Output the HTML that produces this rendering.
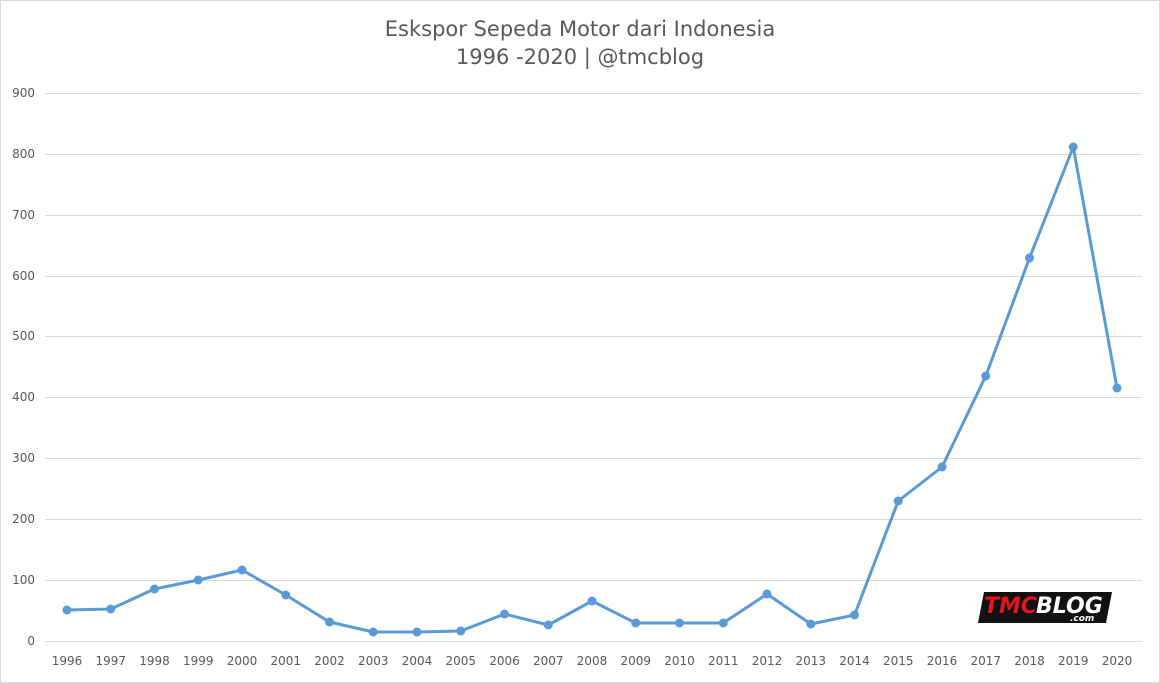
<!DOCTYPE html>
<html><head><meta charset="utf-8"><style>
html,body{margin:0;padding:0;background:#fff}
svg{display:block}
text{font-family:"DejaVu Sans","Liberation Sans",sans-serif}
</style></head><body>
<svg width="1160" height="683" viewBox="0 0 1160 683" xmlns="http://www.w3.org/2000/svg">
<rect x="0.5" y="0.5" width="1159" height="682" fill="#fff" stroke="#d9d9d9"/>
<text x="580" y="36" text-anchor="middle" font-size="21" fill="#595959">Eskspor Sepeda Motor dari Indonesia</text>
<text x="580" y="64" text-anchor="middle" font-size="21" fill="#595959">1996 -2020 | @tmcblog</text>
<g stroke="#d9d9d9" stroke-width="1">
<line x1="45" x2="1142" y1="93.5" y2="93.5"/>
<line x1="45" x2="1142" y1="154.5" y2="154.5"/>
<line x1="45" x2="1142" y1="215.5" y2="215.5"/>
<line x1="45" x2="1142" y1="276.5" y2="276.5"/>
<line x1="45" x2="1142" y1="336.5" y2="336.5"/>
<line x1="45" x2="1142" y1="397.5" y2="397.5"/>
<line x1="45" x2="1142" y1="458.5" y2="458.5"/>
<line x1="45" x2="1142" y1="519.5" y2="519.5"/>
<line x1="45" x2="1142" y1="580.5" y2="580.5"/>
<line x1="45" x2="1142" y1="641.5" y2="641.5"/>
</g>
<g font-size="12" fill="#595959" text-anchor="end">
<text x="35" y="97">900</text><text x="35" y="158">800</text><text x="35" y="219">700</text>
<text x="35" y="280">600</text><text x="35" y="340">500</text><text x="35" y="401">400</text>
<text x="35" y="462">300</text><text x="35" y="523">200</text><text x="35" y="584">100</text>
<text x="35" y="645">0</text>
</g>
<g font-size="12" fill="#595959" text-anchor="middle">
<text x="67" y="665">1996</text><text x="110.75" y="665">1997</text><text x="154.5" y="665">1998</text>
<text x="198.25" y="665">1999</text><text x="242" y="665">2000</text><text x="285.75" y="665">2001</text>
<text x="329.5" y="665">2002</text><text x="373.25" y="665">2003</text><text x="417" y="665">2004</text>
<text x="460.75" y="665">2005</text><text x="504.5" y="665">2006</text><text x="548.25" y="665">2007</text>
<text x="592" y="665">2008</text><text x="635.75" y="665">2009</text><text x="679.5" y="665">2010</text>
<text x="723.25" y="665">2011</text><text x="767" y="665">2012</text><text x="810.75" y="665">2013</text>
<text x="854.5" y="665">2014</text><text x="898.25" y="665">2015</text><text x="942" y="665">2016</text>
<text x="985.75" y="665">2017</text><text x="1029.5" y="665">2018</text><text x="1073.25" y="665">2019</text>
<text x="1117" y="665">2020</text>
</g>
<polyline fill="none" stroke="#5b9bd5" stroke-width="3" stroke-linejoin="round" points="67,610 110.75,609 154.5,589 198.25,580 242,570 285.75,595 329.5,622 373.25,632 417,632 460.75,631 504.5,614 548.25,625 592,601 635.75,623 679.5,623 723.25,623 767,594 810.75,624 854.5,615 898.25,501 942,467 985.75,376 1029.5,258 1073.25,147 1117,388"/>
<g fill="#5b9bd5">
<circle cx="67" cy="610" r="4.5"/><circle cx="110.75" cy="609" r="4.5"/><circle cx="154.5" cy="589" r="4.5"/>
<circle cx="198.25" cy="580" r="4.5"/><circle cx="242" cy="570" r="4.5"/><circle cx="285.75" cy="595" r="4.5"/>
<circle cx="329.5" cy="622" r="4.5"/><circle cx="373.25" cy="632" r="4.5"/><circle cx="417" cy="632" r="4.5"/>
<circle cx="460.75" cy="631" r="4.5"/><circle cx="504.5" cy="614" r="4.5"/><circle cx="548.25" cy="625" r="4.5"/>
<circle cx="592" cy="601" r="4.5"/><circle cx="635.75" cy="623" r="4.5"/><circle cx="679.5" cy="623" r="4.5"/>
<circle cx="723.25" cy="623" r="4.5"/><circle cx="767" cy="594" r="4.5"/><circle cx="810.75" cy="624" r="4.5"/>
<circle cx="854.5" cy="615" r="4.5"/><circle cx="898.25" cy="501" r="4.5"/><circle cx="942" cy="467" r="4.5"/>
<circle cx="985.75" cy="376" r="4.5"/><circle cx="1029.5" cy="258" r="4.5"/><circle cx="1073.25" cy="147" r="4.5"/>
<circle cx="1117" cy="388" r="4.5"/>
</g>
<g transform="translate(978,592)">
<polygon points="6,0 134,0 128,31 0,31" fill="#111"/>
<text x="6" y="21" font-size="22" font-weight="bold" font-style="italic" fill="#e0161c" font-family="Liberation Sans,sans-serif">TMC</text>
<text x="58" y="21" font-size="22" font-weight="bold" font-style="italic" fill="#fff" font-family="Liberation Sans,sans-serif">BLOG</text>
<text x="92" y="29" font-size="9" font-weight="bold" font-style="italic" fill="#fff" font-family="Liberation Sans,sans-serif">.com</text>
</g>
</svg>
</body></html>
